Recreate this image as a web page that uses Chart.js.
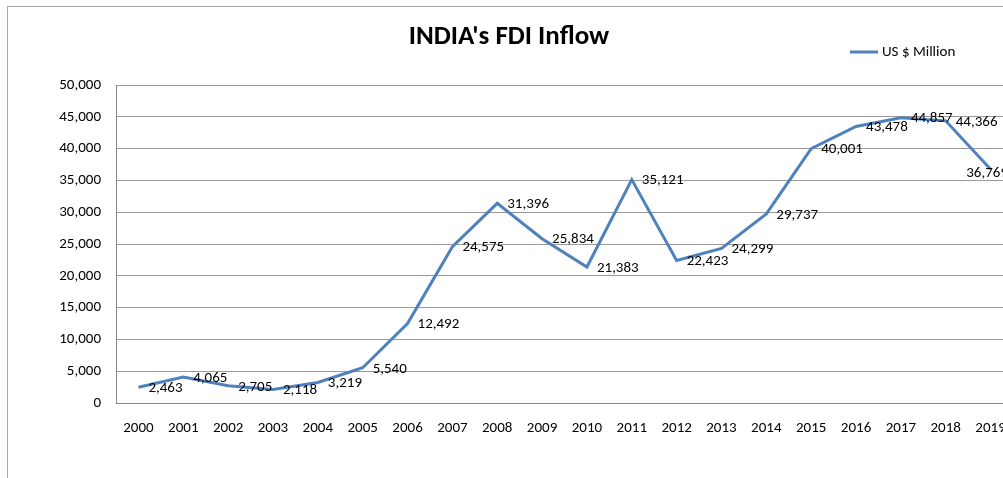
<!DOCTYPE html>
<html>
<head>
<meta charset="utf-8">
<script src="https://cdn.jsdelivr.net/npm/chart.js@4.4.1/dist/chart.umd.min.js"></script>
<style>
  html, body { margin: 0; padding: 0; background: #fff; overflow: hidden; width: 1003px; height: 478px; }
  #frame { position: absolute; left: 7px; top: 6px; width: 1100px; height: 600px; border: 1px solid #a6a6a6; box-sizing: border-box; }
  #wrap { position: absolute; left: 0; top: 0; width: 1016px; height: 478px; }
</style>
</head>
<body>
<div id="frame"></div>
<div id="wrap"><canvas id="c" width="1016" height="478"></canvas></div>
<script>
const TITLE = "INDIA's FDI Inflow";
const SERIES_NAME = "US $ Million";
const years = ["2000","2001","2002","2003","2004","2005","2006","2007","2008","2009",
               "2010","2011","2012","2013","2014","2015","2016","2017","2018","2019"];
const fdiInflow = [2463, 4065, 2705, 2118, 3219, 5540, 12492, 24575, 31396, 25834,
                   21383, 35121, 22423, 24299, 29737, 40001, 43478, 44857, 44366, 36769];
const yTicks = [0, 5000, 10000, 15000, 20000, 25000, 30000, 35000, 40000, 45000, 50000];

const FONT = "Carlito, Calibri, 'Liberation Sans Narrow', 'Open Sans', sans-serif";
const LINE_COLOR = '#4F81BD';
const fmt = v => v.toLocaleString('en-US');

const overlay = {
  id: 'overlay',
  afterDatasetsDraw(chart) {
    const ctx = chart.ctx;
    const meta = chart.getDatasetMeta(0);
    const data = chart.data.datasets[0].data;
    ctx.save();
    ctx.font = "15px " + FONT;
    ctx.fillStyle = '#000';
    ctx.textBaseline = 'middle';
    ctx.textAlign = 'left';
    meta.data.forEach((pt, i) => {
      const txt = fmt(data[i]);
      const w = ctx.measureText(txt).width;
      let x = pt.x + 10;
      let y = pt.y + 1;
      if (x + w > 1008) { x = 1008 - w; y = pt.y + 4; }
      ctx.fillText(txt, x, y);
    });
    ctx.restore();
  },
  afterDraw(chart) {
    const ctx = chart.ctx;
    ctx.save();
    ctx.font = "bold 27px " + FONT;
    ctx.fillStyle = '#000';
    ctx.textAlign = 'center';
    ctx.textBaseline = 'middle';
    ctx.fillText(TITLE, 509, 37);
    // legend
    const ds = chart.data.datasets[0];
    ctx.strokeStyle = ds.borderColor;
    ctx.lineWidth = 3;
    ctx.beginPath();
    ctx.moveTo(850, 52);
    ctx.lineTo(878, 52);
    ctx.stroke();
    ctx.font = "15px " + FONT;
    ctx.textAlign = 'left';
    ctx.fillText(ds.label, 882, 52);
    ctx.restore();
  }
};

new Chart(document.getElementById('c'), {
  type: 'line',
  data: {
    labels: years,
    datasets: [{
      label: SERIES_NAME,
      data: fdiInflow,
      borderColor: LINE_COLOR,
      backgroundColor: LINE_COLOR,
      borderWidth: 3,
      pointRadius: 0,
      tension: 0,
      fill: false
    }]
  },
  options: {
    responsive: false,
    animation: false,
    layout: { padding: { top: 85, right: 3, left: 0, bottom: 0 } },
    plugins: { legend: { display: false }, title: { display: false }, tooltip: { enabled: false } },
    scales: {
      x: {
        offset: true,
        grid: { display: false, drawTicks: false },
        border: { display: true, color: '#868686', width: 1 },
        ticks: { color: '#000', font: { family: FONT, size: 15 }, padding: 16, maxRotation: 0, autoSkip: false },
        afterFit(s) { s.height = 75; s.paddingLeft = 0; s.paddingRight = 0; }
      },
      y: {
        min: 0, max: 50000,
        afterBuildTicks(s) { s.ticks = yTicks.map(v => ({ value: v })); },
        grid: { color: '#9a9a9a', lineWidth: 1, drawTicks: false },
        border: { display: true, color: '#868686', width: 1 },
        ticks: { color: '#000', font: { family: FONT, size: 15 }, padding: 15, callback: v => fmt(v) },
        afterFit(s) { s.width = 116; s.paddingTop = 0; s.paddingBottom = 0; }
      }
    }
  },
  plugins: [overlay]
});
</script>
</body>
</html>
